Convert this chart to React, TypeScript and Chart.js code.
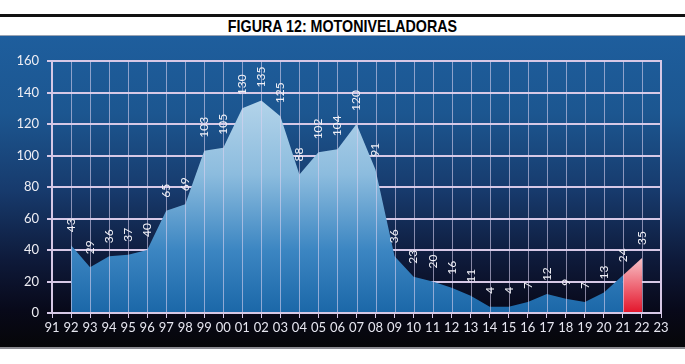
import React, { useEffect, useRef } from 'react';
import { Chart, registerables } from 'chart.js';

Chart.register(...registerables);

const TITLE = 'FIGURA 12: MOTONIVELADORAS';

const categories = [
  '91', '92', '93', '94', '95', '96', '97', '98', '99', '00', '01',
  '02', '03', '04', '05', '06', '07', '08', '09', '10', '11', '12',
  '13', '14', '15', '16', '17', '18', '19', '20', '21', '22', '23',
];

const blueYears = [
  '92', '93', '94', '95', '96', '97', '98', '99', '00', '01', '02',
  '03', '04', '05', '06', '07', '08', '09', '10', '11', '12', '13',
  '14', '15', '16', '17', '18', '19', '20', '21',
];
const blueValues = [
  43, 29, 36, 37, 40, 65, 69, 103, 105, 130, 135,
  125, 88, 102, 104, 120, 91, 36, 23, 20, 16, 11,
  4, 4, 7, 12, 9, 7, 13, 24,
];

const redYears = ['21', '22'];
const redValues = [24, 35];

const yTicks = [0, 20, 40, 60, 80, 100, 120, 140, 160];

const GRID = '#d6c8e6';

function seriesFor(years: string[], values: number[]) {
  return categories.map((c) => {
    const i = years.indexOf(c);
    return i >= 0 ? values[i] : null;
  });
}

const overlayPlugin = {
  id: 'overlay',
  afterDatasetsDraw(chart: any) {
    const { ctx, chartArea: a, scales } = chart;
    const x = scales.x;
    const y = scales.y;
    ctx.save();
    // vertical grid lines drawn over the areas
    ctx.strokeStyle = 'rgba(218,210,240,0.6)';
    ctx.lineWidth = 1;
    for (let i = 1; i < categories.length - 1; i++) {
      const px = Math.round(x.getPixelForValue(i)) + 0.5;
      ctx.beginPath();
      ctx.moveTo(px, a.top);
      ctx.lineTo(px, a.bottom);
      ctx.stroke();
    }
    // right border
    ctx.strokeStyle = GRID;
    ctx.lineWidth = 2;
    const rx = x.getPixelForValue(categories.length - 1);
    ctx.beginPath();
    ctx.moveTo(rx, a.top - 1);
    ctx.lineTo(rx, a.bottom);
    ctx.stroke();
    // x axis line
    const by = y.getPixelForValue(0);
    ctx.beginPath();
    ctx.moveTo(a.left, by);
    ctx.lineTo(a.right, by);
    ctx.stroke();

    // value labels
    ctx.fillStyle = '#f0f0f6';
    ctx.font = '12px Lato';
    ctx.textAlign = 'left';
    ctx.textBaseline = 'middle';
    const labelled: [string, number][] = [];
    blueYears.forEach((c, i) => labelled.push([c, blueValues[i]]));
    redYears.forEach((c, i) => {
      if (blueYears.indexOf(c) < 0) labelled.push([c, redValues[i]]);
    });
    labelled.forEach(([c, v]) => {
      const px = x.getPixelForValue(categories.indexOf(c));
      const py = y.getPixelForValue(v);
      ctx.save();
      ctx.translate(px, py - 13);
      ctx.rotate(-Math.PI / 2);
      ctx.fillText(String(v), 0, 0);
      ctx.restore();
    });
    ctx.restore();
  },
};

export default function App() {
  const ref = useRef<HTMLCanvasElement | null>(null);

  useEffect(() => {
    if (!ref.current) return;
    Chart.defaults.font.family = 'Lato';
    const chart = new Chart(ref.current, {
      type: 'line',
      data: {
        labels: categories,
        datasets: [
          {
            data: seriesFor(blueYears, blueValues),
            fill: 'origin',
            borderWidth: 0,
            pointRadius: 0,
            tension: 0,
            spanGaps: false,
            backgroundColor: (c: any) => {
              const a = c.chart.chartArea;
              if (!a) return '#6aa2cc';
              const g = c.chart.ctx.createLinearGradient(0, a.top, 0, a.bottom);
              g.addColorStop(0, '#c8e0f0');
              g.addColorStop(0.45, '#8cbcde');
              g.addColorStop(0.75, '#3c86c2');
              g.addColorStop(1, '#1b67a8');
              return g;
            },
          },
          {
            data: seriesFor(redYears, redValues),
            fill: 'origin',
            borderWidth: 0,
            pointRadius: 0,
            tension: 0,
            spanGaps: false,
            backgroundColor: (c: any) => {
              const a = c.chart.chartArea;
              const ys = c.chart.scales.y;
              if (!a || !ys) return '#ee5060';
              const top = ys.getPixelForValue(Math.max(...redValues));
              const bot = ys.getPixelForValue(0);
              const g = c.chart.ctx.createLinearGradient(0, top, 0, bot);
              g.addColorStop(0, '#f7c3c8');
              g.addColorStop(0.5, '#ef6a78');
              g.addColorStop(1, '#e3142a');
              return g;
            },
          },
        ],
      },
      options: {
        animation: false,
        responsive: false,
        devicePixelRatio: 1,
        layout: { padding: { top: 25, right: 24, left: 0, bottom: 0 } },
        plugins: {
          legend: { display: false },
          tooltip: { enabled: false },
          title: { display: false },
        },
        scales: {
          x: {
            type: 'category',
            offset: false,
            afterFit: (s: any) => {
              s.height = 34;
            },
            grid: {
              drawOnChartArea: false,
              drawTicks: true,
              tickLength: 5,
              color: GRID,
              lineWidth: 1,
            },
            border: { display: true, color: GRID, width: 2 },
            ticks: {
              autoSkip: false,
              maxRotation: 0,
              minRotation: 0,
              padding: 2,
              color: '#e6e6f0',
              font: { size: 13, family: 'Lato' },
            },
          },
          y: {
            min: 0,
            max: 160,
            afterFit: (s: any) => {
              s.width = 52;
            },
            afterBuildTicks: (s: any) => {
              s.ticks = yTicks.map((v) => ({ value: v }));
            },
            grid: {
              color: GRID,
              lineWidth: 2,
              drawTicks: true,
              tickLength: 5,
            },
            border: { display: true, color: GRID, width: 2 },
            ticks: {
              padding: 8,
              color: '#eeeef4',
              font: { size: 13, family: 'Lato' },
            },
          },
        },
      },
      plugins: [overlayPlugin],
    });
    return () => chart.destroy();
  }, []);

  return (
    <div
      style={{
        position: 'fixed',
        left: 0,
        top: 0,
        width: 685,
        height: 364,
        background: '#ffffff',
        overflow: 'hidden',
      }}
    >
      <div style={{ position: 'absolute', left: 0, top: 14, width: 685, height: 3, background: '#111' }} />
      <div
        style={{
          position: 'absolute',
          left: 0,
          top: 17,
          width: 685,
          height: 18,
          lineHeight: '19px',
          textAlign: 'center',
          fontFamily: '"Liberation Sans Narrow", "Arial Narrow", "Liberation Sans", Arial, sans-serif',
          fontWeight: 'bold',
          fontSize: 17,
          color: '#000',
        }}
      >
        <span style={{ display: 'inline-block', transform: 'scaleX(0.84)', transformOrigin: 'center' }}>{TITLE}</span>
      </div>
      <div style={{ position: 'absolute', left: 0, top: 35, width: 685, height: 1, background: '#9aa4b4' }} />
      <div
        style={{
          position: 'absolute',
          left: 0,
          top: 36,
          width: 685,
          height: 311,
          background:
            'linear-gradient(to bottom, #1e5e9d 0%, #1c5690 25%, #173a6c 50%, #0e1a3a 72%, #08091a 88%, #060608 100%)',
        }}
      >
        <canvas ref={ref} width={685} height={311} style={{ display: 'block' }} />
      </div>
      <div style={{ position: 'absolute', left: 0, top: 347, width: 685, height: 2, background: '#8a8a90' }} />
    </div>
  );
}
